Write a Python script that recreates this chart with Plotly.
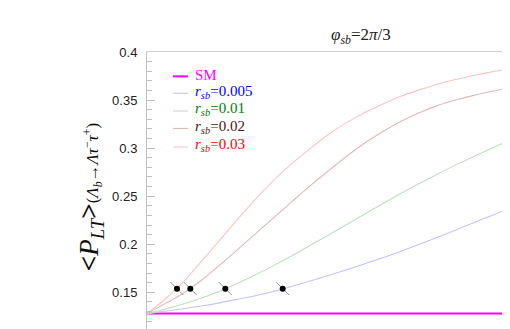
import plotly.graph_objects as go

# x: normalised position along the (unlabelled) horizontal axis
x = [0, 0.05, 0.1, 0.15, 0.2, 0.25, 0.3, 0.35, 0.4, 0.45, 0.5,
     0.55, 0.6, 0.65, 0.7, 0.75, 0.8, 0.85, 0.9, 0.95, 1.0]

sm = [0.1278] * len(x)
r005 = [0.1278, 0.1302, 0.1328, 0.1357, 0.1390, 0.1427, 0.1466, 0.1510, 0.1563, 0.1618, 0.1675,
        0.1735, 0.1796, 0.1861, 0.1928, 0.1999, 0.2072, 0.2147, 0.2224, 0.2300, 0.2377]
r01 = [0.1278, 0.1325, 0.1379, 0.1441, 0.1510, 0.1593, 0.1684, 0.1780, 0.1882, 0.1989, 0.2097,
       0.2206, 0.2315, 0.2424, 0.2530, 0.2632, 0.2729, 0.2823, 0.2913, 0.2999, 0.3085]
r02 = [0.1278, 0.1382, 0.1490, 0.1625, 0.1782, 0.1947, 0.2113, 0.2280, 0.2446, 0.2610, 0.2764,
       0.2916, 0.3053, 0.3172, 0.3279, 0.3368, 0.3442, 0.3500, 0.3549, 0.3591, 0.3630]
r03 = [0.1278, 0.1430, 0.1609, 0.1822, 0.2041, 0.2262, 0.2472, 0.2670, 0.2842, 0.2998, 0.3142,
       0.3265, 0.3370, 0.3460, 0.3540, 0.3606, 0.3665, 0.3713, 0.3755, 0.3793, 0.3827]

dot_x = [0.0826, 0.1193, 0.2157, 0.3738]
dot_y = [0.1538, 0.1538, 0.1538, 0.1538]

y_ticks = [0.15, 0.2, 0.25, 0.3, 0.35, 0.4]
y_labels = ["0.15", "0.2", "0.25", "0.3", "0.35", "0.4"]

series = [
    ("SM", sm, "#ff00ff", 2.0, "#ff00ff"),
    ("0.005", r005, "rgb(195,195,255)", 1.1, "#0000ff"),
    ("0.01", r01, "rgb(190,225,190)", 1.1, "#008000"),
    ("0.02", r02, "rgb(225,185,185)", 1.1, "#501414"),
    ("0.03", r03, "rgb(255,195,195)", 1.1, "#ff0000"),
]
legend_y = [0.912, 0.851, 0.787, 0.724, 0.657]

fig = go.Figure()
shapes = []
annotations = []
for (name, vals, col, w, tcol), ly in zip(series, legend_y):
    fig.add_trace(go.Scatter(x=x, y=vals, mode="lines", showlegend=False,
                             line=dict(color=col, width=w, shape="spline", smoothing=1.0),
                             name=name))
    shapes.append(dict(type="line", xref="paper", yref="paper", x0=0.0716, x1=0.1129,
                       y0=ly, y1=ly, line=dict(color=col, width=w)))
    if name == "SM":
        txt = f"<span style='color:{tcol}'>SM</span>"
    else:
        txt = f"<span style='color:{tcol}'><i>r</i><sub><i>sb</i></sub>={name}</span>"
    annotations.append(dict(text=txt, xref="paper", yref="paper", x=0.128, y=ly + 0.006,
                            xanchor="left", yanchor="middle", showarrow=False,
                            font=dict(family="Liberation Serif", size=15)))

fig.add_trace(go.Scatter(x=dot_x, y=dot_y, mode="markers", showlegend=False,
                         marker=dict(symbol="line-nw", size=13, color="#999999",
                                     line=dict(color="#999999", width=1))))
fig.add_trace(go.Scatter(x=dot_x, y=dot_y, mode="markers", showlegend=False,
                         marker=dict(symbol="circle", size=6, color="black")))

annotations += [
    dict(text="<i>φ</i><sub><i>sb</i></sub>=2<i>π</i>/3", xref="paper", yref="paper",
         x=0.5895, y=1.057, xanchor="center", yanchor="middle", showarrow=False,
         font=dict(family="Liberation Serif", size=17, color="#222")),
    dict(text="<span style='font-size:27px'><b>&lt;</b><i>P</i><sub><i>LT</i></sub><b>&gt;</b></span>"
              "(<i>Λ</i><sub><i>b</i></sub>→<i>Λτ</i><sup>−</sup><i>τ</i><sup>+</sup>)",
         xref="paper", yref="paper", x=-0.154, y=0.476, xanchor="center", yanchor="middle",
         textangle=-90, showarrow=False,
         font=dict(family="Liberation Serif", size=17, color="#111")),
]

fig.update_layout(
    width=502, height=321,
    margin=dict(l=139, r=0, t=44, b=0),
    paper_bgcolor="white", plot_bgcolor="white",
    showlegend=False,
    shapes=shapes,
    annotations=annotations,
    xaxis=dict(range=[0, 1], side="top", showline=True, linecolor="#d0d0d0", linewidth=1,
               showticklabels=False, ticks="", showgrid=False, zeroline=False),
    yaxis=dict(range=[0.1118, 0.4], showline=True, linecolor="#c0c0c0", linewidth=1,
               tickvals=y_ticks, ticktext=y_labels, ticks="inside", ticklen=8,
               tickcolor="#c0c0c0", ticklabelstandoff=6,
               tickfont=dict(family="Liberation Sans", size=13, color="#222"),
               minor=dict(dtick=0.01, ticks="inside", ticklen=5, tickcolor="#c0c0c0"),
               showgrid=False, zeroline=False, automargin=False),
)

fig.write_html("out.html")
